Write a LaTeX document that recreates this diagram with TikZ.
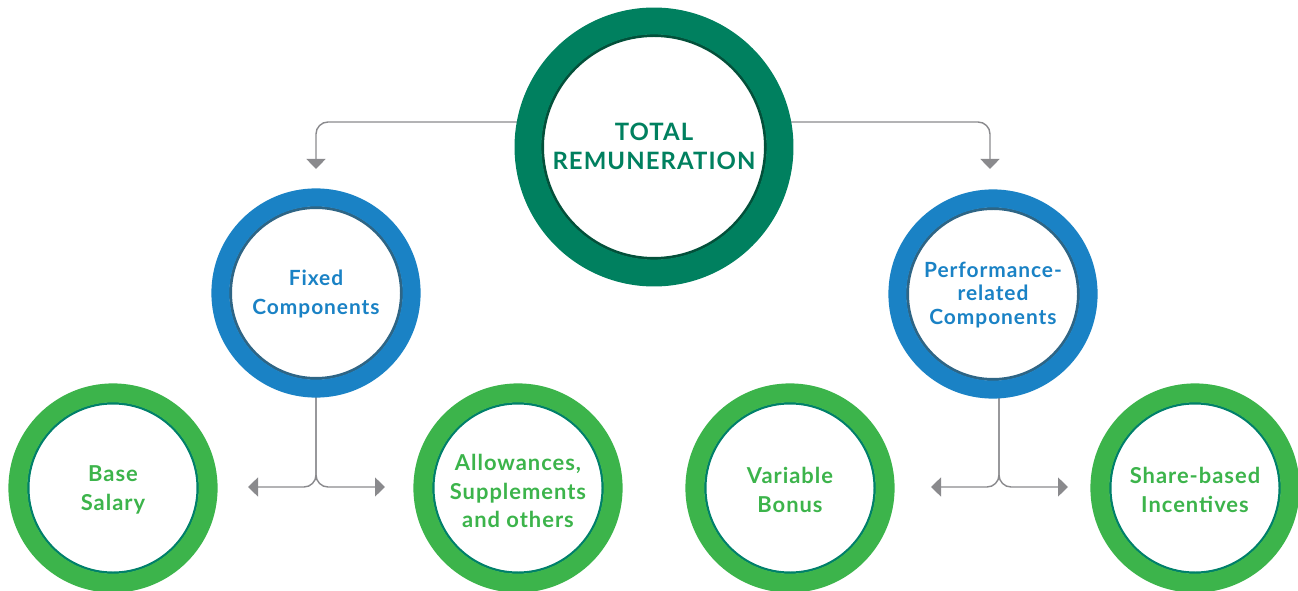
\documentclass[tikz,border=0pt]{standalone}
\usepackage{fontspec}
\setmainfont{Lato}
\newfontfamily\labelfont{Lato}[LetterSpace=4.5]
\usetikzlibrary{arrows.meta,backgrounds,calc}

\definecolor{topring}{HTML}{00805F}
\definecolor{topline}{HTML}{03503A}
\definecolor{bluering}{HTML}{1A82C5}
\definecolor{blueline}{HTML}{2E6585}
\definecolor{greenring}{HTML}{3CB44B}
\definecolor{greenline}{HTML}{00806A}
\definecolor{conngray}{HTML}{8A8A8D}

\tikzset{
  % ring node: outer radius #1, ring width #2, ring colour #3, inner line colour #4, inner line width #5
  ring/.style n args={5}{
    circle, inner sep=0pt, fill=white,
    minimum size={2*(#1)-(#2)},
    draw=#3, line width=#2,
    path picture={\draw[#4, line width=#5]
      (path picture bounding box.center) circle ({(#1)-(#2)-(#5)/2});}
  },
  toptext/.style={text=topring, font=\fontsize{24}{29}\labelfont\bfseries, align=center},
  bluetext/.style={text=bluering, font=\fontsize{21}{29.5}\labelfont\bfseries, align=center},
  perftext/.style={text=bluering, font=\fontsize{21}{24}\labelfont\bfseries, align=center},
  greentext/.style={text=greenring, font=\fontsize{22}{29}\labelfont\bfseries, align=center},
  conn/.style={draw=conngray, line width=1.4bp, rounded corners=12bp,
    -{Triangle[length=10bp,width=19bp]}}
}

\begin{document}
\begin{tikzpicture}[x=1bp,y=-1bp]
  \useasboundingbox (0,0) rectangle (1298,591);

  % top level
  \node[ring={140}{27}{topring}{topline}{3}] (total) at (654,147) {};
  \node[toptext] (totalText) at (654,146) {TOTAL\\REMUNERATION};

  % second level
  \node[ring={105}{18}{bluering}{blueline}{3}] (fixed) at (316,293) {};
  \node[bluetext] (fixedText) at (316,294) {Fixed\\Components};
  \node[ring={105}{18}{bluering}{blueline}{3}] (perf) at (993,294) {};
  \node[perftext] (perfText) at (993,295) {Performance-\\related\\Components};

  % third level
  \node[ring={105}{19}{greenring}{greenline}{2.5}] (base) at (113,488) {};
  \node[greentext] (baseText) at (113,490) {Base\\Salary};
  \node[ring={105}{19}{greenring}{greenline}{2.5}] (allow) at (518,488) {};
  \node[greentext] (allowText) at (518,491) {Allowances,\\Supplements\\and others};
  \node[ring={105}{19}{greenring}{greenline}{2.5}] (var) at (790,488) {};
  \node[greentext] (varText) at (790,490) {Variable\\Bonus};
  \node[ring={105}{19}{greenring}{greenline}{2.5}] (share) at (1195,488) {};
  \node[greentext] (shareText) at (1195,490) {Share-based\\Incentives};

  % arrow end points
  \coordinate (fixIn) at ($(fixed.center)+(0,-124)$);
  \coordinate (perfIn) at ($(perf.center)+(-3,-125)$);
  \coordinate (fixL) at (248,487);
  \coordinate (fixR) at (385,487);
  \coordinate (perfL) at (931,487);
  \coordinate (perfR) at (1068,487);

  \begin{scope}[on background layer]
    \draw[conn] ($(total.center)+(0,-25)$) -| (fixIn);
    \draw[conn] ($(total.center)+(0,-25)$) -| (perfIn);
    \draw[conn] (fixed.center) |- (fixL);
    \draw[conn] (fixed.center) |- (fixR);
    \draw[conn] ($(perf.center)+(6,0)$) |- (perfL);
    \draw[conn] ($(perf.center)+(6,0)$) |- (perfR);
  \end{scope}
\end{tikzpicture}
\end{document}
